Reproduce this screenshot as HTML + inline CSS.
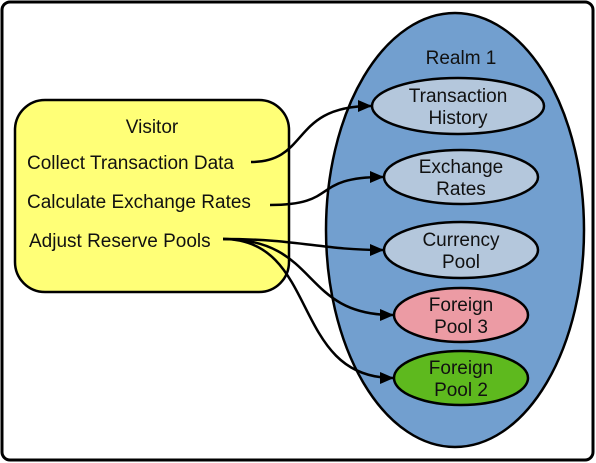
<!DOCTYPE html>
<html><head><style>
html,body{margin:0;padding:0;background:#fff;}
svg{display:block;font-family:"Liberation Sans",sans-serif;}
</style></head><body>
<svg width="596" height="463" viewBox="0 0 596 463">
<defs><marker id="a" markerWidth="14" markerHeight="12" refX="13" refY="6" orient="auto" markerUnits="userSpaceOnUse"><path d="M0,0 L14,6 L0,12 z" fill="#000"/></marker></defs>
<rect x="2" y="2" width="591" height="458" rx="8" fill="#fff" stroke="#000" stroke-width="3"/>
<ellipse cx="455" cy="230" rx="129" ry="217" fill="#729fcf" stroke="#000" stroke-width="2.5"/>
<text x="461" y="64" font-size="19" text-anchor="middle" fill="#111">Realm 1</text>
<rect x="15" y="100" width="274" height="192" rx="30" fill="#ffff77" stroke="#000" stroke-width="2.5"/>
<text x="152" y="133" font-size="19" text-anchor="middle" fill="#111">Visitor</text>
<text x="27" y="169" font-size="19" fill="#111">Collect Transaction Data</text>
<text x="27" y="208" font-size="19" fill="#111">Calculate Exchange Rates</text>
<text x="29" y="247" font-size="19" fill="#111">Adjust Reserve Pools</text>
<g fill="#b4c7dc" stroke="#000" stroke-width="2.5">
<ellipse cx="458" cy="106" rx="86" ry="28"/>
<ellipse cx="461" cy="177" rx="77" ry="27"/>
<ellipse cx="461" cy="250" rx="77" ry="28"/>
<ellipse cx="461" cy="315" rx="67" ry="27" fill="#ec9ba4"/>
<ellipse cx="461" cy="378" rx="67" ry="27" fill="#5eb91e"/>
</g>
<g font-size="19" text-anchor="middle" fill="#111">
<text x="458" y="102">Transaction</text><text x="458" y="124">History</text>
<text x="461" y="173">Exchange</text><text x="461" y="195">Rates</text>
<text x="461" y="246">Currency</text><text x="461" y="268">Pool</text>
<text x="461" y="311">Foreign</text><text x="461" y="333">Pool 3</text>
<text x="461" y="374">Foreign</text><text x="461" y="396">Pool 2</text>
</g>
<g fill="none" stroke="#000" stroke-width="2.5" marker-end="url(#a)">
<path d="M251,162 C310,162 290,106 371,106"/>
<path d="M270,205 C340,205 310,177 383,177"/>
<path d="M223,239 C300,239 320,250 383,250"/>
<path d="M223,239 C320,239 300,315 393,315"/>
<path d="M223,239 C320,239 290,378 393,378"/>
</g>
</svg>
</body></html>
